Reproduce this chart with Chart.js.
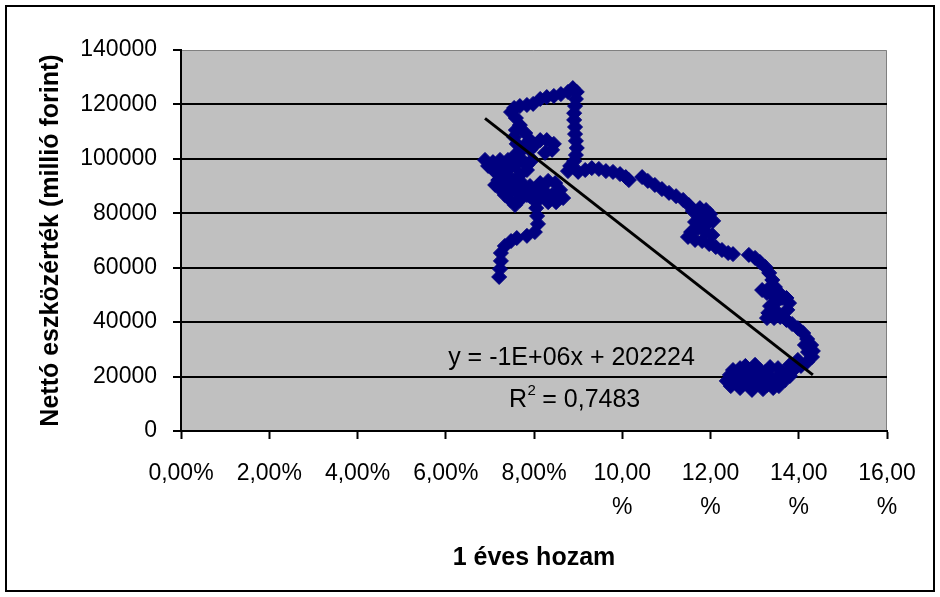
<!DOCTYPE html>
<html>
<head>
<meta charset="utf-8">
<script src="https://cdn.jsdelivr.net/npm/chart.js@4.4.1/dist/chart.umd.min.js"></script>
<style>
  html, body { margin: 0; padding: 0; background: #fff; }
  #wrap { width: 940px; height: 597px; }
</style>
</head>
<body>
<div id="wrap"><canvas id="chart" width="940" height="597"></canvas></div>
<script>
// 1-year return, in percent
const returnPct = [
  7.21, 7.23, 7.25, 7.25, 7.34, 7.48, 7.61, 7.84, 8.02, 8.09, 8.07, 8.05, 8.00,
  7.84, 7.64, 7.41, 7.23, 7.34, 7.50, 7.68, 7.91, 8.14, 8.32, 8.48, 8.59, 8.66, 8.50, 8.32, 8.14, 7.91, 7.68, 7.57,
  7.30, 7.12, 6.96, 6.89, 7.07, 7.23, 7.41, 7.57, 7.73, 7.68, 7.61, 7.55, 7.59, 7.68, 7.80, 7.91, 8.02, 8.14, 8.29,
  8.45, 8.41, 8.25, 7.96, 7.84, 7.68, 7.46, 7.19,
  7.12, 7.34, 7.57, 7.80, 8.02, 8.25, 8.41, 7.46, 7.23, 7.41, 7.57, 7.80, 7.91, 7.84,
  7.48, 7.59, 7.55, 7.68, 7.84, 7.98, 8.14, 8.29, 8.45, 8.61, 8.77, 8.88, 8.97,
  8.95, 8.93, 8.91, 8.91, 8.93, 8.93, 8.95, 8.97, 8.95, 8.91, 8.82, 8.77,
  9.00, 9.16, 9.31, 9.47, 9.63, 9.79, 9.95, 10.08, 10.15, 10.45, 10.58, 10.74, 10.90, 11.06, 11.22, 11.38, 11.51, 11.60,
  11.76, 11.90, 11.99, 12.06, 11.90, 11.72, 11.56, 11.49, 11.65, 11.81, 11.97, 12.12, 12.26, 12.40, 12.51, 11.83,
  11.76, 11.65, 11.88, 12.04,
  12.87, 13.01, 13.12, 13.24, 13.33, 13.40, 13.35, 13.28, 13.40, 13.56, 13.72, 13.78, 13.49, 13.35, 13.31, 13.28,
  13.46, 13.62, 13.17, 13.74, 13.51,
  13.44, 13.58, 13.72, 13.85, 13.98, 14.10, 14.19, 14.28, 14.32, 14.30, 14.19, 14.05, 14.14, 14.21,
  13.92, 13.78, 13.64, 13.53, 13.40, 13.26, 13.12, 12.99, 12.85, 12.71, 12.58, 12.44, 12.37, 12.46, 12.60, 12.74,
  12.87, 13.01, 13.14, 13.28, 13.42, 13.55, 13.69, 13.12, 13.35, 12.90, 12.67, 12.51,
  12.56, 12.79, 13.06, 13.35, 13.58, 13.80, 12.67, 12.94, 13.19, 12.79, 13.01, 13.24, 13.53, 13.80, 13.98
];

// Net asset value, million HUF
const netAssets = [
  56600, 59500, 62500, 65400, 68000, 69800, 70900, 71700, 73100, 76100, 79000, 81900, 84900,
  86700, 87500, 87800, 88900, 91100, 90000, 91900, 90000, 91100, 91900, 91100, 88600, 85600, 84100, 84100, 85600, 86300, 84900, 83000,
  93300, 95200, 97400, 99600, 98800, 97400, 95900, 97400, 99600, 102500, 105500, 108000, 110600, 112400, 109500, 103300, 105100, 106900, 106900,
  105500, 103300, 102200, 99600, 95900, 94100, 93000, 92200,
  90400, 86700, 88600, 89300, 88600, 87800, 86700, 84900, 99600, 99600, 101400, 105100, 106900, 97700,
  117200, 115000, 118700, 119400, 119800, 120200, 122000, 122700, 123100, 123800, 124600, 126000, 124600,
  122000, 119400, 116800, 114300, 111700, 109100, 106600, 104000, 101400, 99200, 97400, 95500,
  95200, 95900, 96600, 96300, 95500, 95200, 94400, 93300, 92200, 93300, 91900, 90400, 88900, 87500, 86300, 84900, 83000, 80800,
  81900, 81200, 79700, 77200, 75700, 74600, 73100, 71300, 70200, 69800, 68700, 67600, 66500, 65400, 65000, 76100,
  78300, 76800, 73100, 72000,
  64700, 63600, 62100, 60300, 58100, 55500, 52900, 50700, 50000, 50700, 48900, 47000, 47400, 45900, 43400, 41500,
  52900, 48900, 51800, 44500, 43700,
  41500, 41900, 40800, 39300, 37800, 36000, 33800, 31600, 29400, 27200, 25400, 23900, 31600, 29000,
  23100, 22400, 21300, 19500, 19500, 19500, 19500, 19800, 20200, 20600, 20900, 20600, 18400, 16500, 17300, 17300,
  17600, 16900, 17600, 16900, 15800, 16500, 18700, 22400, 23500, 22400, 23100, 22400,
  18700, 19100, 18400, 18000, 18700, 20200, 15800, 15100, 15400, 23900, 24300, 21700, 23100, 24300, 26100
];

// Axis ranges and tick steps
const xTickMin = 0, xTickMax = 0.16, xTickStep = 0.02;
const yTickMin = 0, yTickMax = 140000, yTickStep = 20000;

// Linear trend (least squares), as printed on the chart
const trendIntercept = 202224;
const trendSlope = -1268000;
const trendEquation = 'y = -1E+06x + 202224';
const rSquaredText = '0,7483';

const FONT = '"Liberation Sans", Arial, Helvetica, sans-serif';

const points = returnPct.map((r, i) => ({ x: r / 100, y: netAssets[i] }));
const xs = points.map(p => p.x);
const trendX0 = Math.min(...xs), trendX1 = Math.max(...xs);
const trendPoints = [
  { x: trendX0, y: trendIntercept + trendSlope * trendX0 },
  { x: trendX1, y: trendIntercept + trendSlope * trendX1 }
];

// White page, grey plot area and outer frame
const framePlugin = {
  id: 'frame',
  beforeDraw(chart) {
    const { ctx, chartArea: a } = chart;
    ctx.save();
    ctx.fillStyle = '#ffffff';
    ctx.fillRect(0, 0, chart.width, chart.height);
    ctx.fillStyle = '#c0c0c0';
    ctx.fillRect(a.left, a.top, a.right - a.left, a.bottom - a.top);
    ctx.strokeStyle = '#808080';
    ctx.lineWidth = 1;
    ctx.beginPath();
    ctx.moveTo(a.left, a.top + 0.5);
    ctx.lineTo(a.right - 0.5, a.top + 0.5);
    ctx.lineTo(a.right - 0.5, a.bottom);
    ctx.stroke();
    ctx.strokeStyle = '#000000';
    ctx.lineWidth = 2;
    ctx.strokeRect(6, 6, 928, 585);
    ctx.restore();
  }
};

// Trend-line equation and R squared
const trendLabelPlugin = {
  id: 'trendLabel',
  afterDraw(chart) {
    const { ctx, scales: { x, y } } = chart;
    ctx.save();
    ctx.fillStyle = '#000';
    ctx.textBaseline = 'middle';
    ctx.textAlign = 'center';
    ctx.font = '25px ' + FONT;
    ctx.fillText(trendEquation, x.getPixelForValue(0.0885), y.getPixelForValue(26800));

    const cx = x.getPixelForValue(0.0892);
    const cy = y.getPixelForValue(11400);
    const big = '25px ' + FONT, small = '15px ' + FONT;
    ctx.font = big;
    const wR = ctx.measureText('R').width;
    const rest = ' = ' + rSquaredText;
    const wRest = ctx.measureText(rest).width;
    ctx.font = small;
    const w2 = ctx.measureText('2').width;
    const sx = cx - (wR + w2 + wRest) / 2;
    ctx.textAlign = 'left';
    ctx.font = big;
    ctx.fillText('R', sx, cy);
    ctx.font = small;
    ctx.fillText('2', sx + wR + 0.5, cy - 9);
    ctx.font = big;
    ctx.fillText(rest, sx + wR + w2, cy);
    ctx.restore();
  }
};

Chart.defaults.font.family = FONT;
Chart.defaults.color = '#000';

new Chart(document.getElementById('chart'), {
  type: 'scatter',
  data: {
    datasets: [
      {
        type: 'line',
        data: trendPoints,
        borderColor: '#000',
        borderWidth: 3,
        pointRadius: 0,
        fill: false,
        order: 0
      },
      {
        data: points,
        pointStyle: 'rectRot',
        pointRadius: 7.5,
        pointBackgroundColor: '#000080',
        pointBorderColor: '#000080',
        pointBorderWidth: 1,
        order: 1
      }
    ]
  },
  plugins: [framePlugin, trendLabelPlugin],
  options: {
    responsive: false,
    animation: false,
    devicePixelRatio: 1,
    layout: { padding: { left: 0, right: 53, top: 50, bottom: 0 } },
    plugins: { legend: { display: false }, tooltip: { enabled: false } },
    scales: {
      x: {
        type: 'linear',
        min: xTickMin,
        max: xTickMax,
        ticks: {
          stepSize: xTickStep,
          autoSkip: false,
          maxRotation: 0,
          padding: 17,
          color: '#000',
          font: { size: 23, lineHeight: 1.5 },
          callback: v => {
            const s = (v * 100).toFixed(2).replace('.', ',');
            return v >= 0.095 ? [s, '%'] : s + '%';
          }
        },
        grid: { drawOnChartArea: false, tickLength: 8, tickColor: '#000', tickWidth: 2 },
        border: { color: '#000', width: 2 },
        title: {
          display: true,
          text: '1 éves hozam',
          color: '#000',
          font: { size: 25, weight: 'bold' },
          padding: { top: 0, bottom: 24 }
        },
        afterFit(scale) { scale.height = 166; }
      },
      y: {
        type: 'linear',
        min: yTickMin,
        max: yTickMax,
        ticks: {
          stepSize: yTickStep,
          padding: 16,
          color: '#000',
          font: { size: 23 },
          callback: v => String(v)
        },
        grid: {
          color: c => (c.tick && c.tick.value === yTickMax) ? 'rgba(0,0,0,0)' : '#000',
          lineWidth: 2,
          tickLength: 8,
          tickColor: '#000',
          tickWidth: 2
        },
        border: { color: '#000', width: 2 },
        title: {
          display: true,
          text: 'Nettó eszközérték (millió forint)',
          color: '#000',
          font: { size: 25, weight: 'bold' },
          padding: { top: 36, bottom: 0 }
        },
        afterFit(scale) { scale.width = 181; }
      }
    }
  }
});
</script>
</body>
</html>
